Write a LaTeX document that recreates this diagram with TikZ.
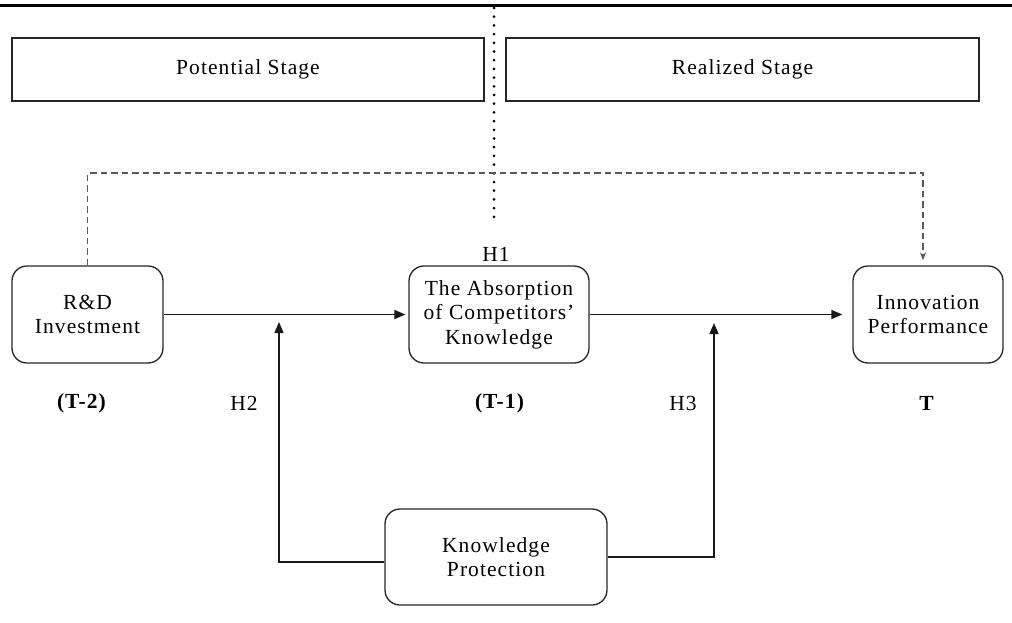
\documentclass[tikz,border=0pt]{standalone}
\usepackage{fontspec}
\setmainfont[LetterSpace=5]{Liberation Serif}
\usetikzlibrary{arrows.meta}
\begin{document}
\begin{tikzpicture}[x=1pt,y=-1pt,
  txt/.style={font=\fontsize{21.5}{24.5}\selectfont, inner sep=0pt, text=black},
  stagebox/.style={draw=black!85, line width=1.3pt, inner sep=0pt, minimum height=63pt, font=\fontsize{21.5}{24.5}\selectfont},
  roundbox/.style={draw=black!85, line width=1.3pt, rounded corners=15pt, inner sep=0pt, align=center, minimum height=97pt, font=\fontsize{21.5}{24.5}\selectfont},
  arr/.style={draw=black!90, line width=1.5pt, -{Triangle[length=11pt,width=9pt]}},
  dashconn/.style={draw=black!65, line width=1.9pt, dash pattern=on 6.5pt off 4pt, -{Stealth[length=8pt,width=6pt]}},
  dotline/.style={draw=black, line width=3pt, line cap=round, dash pattern=on 0pt off 8.7pt},
]
\useasboundingbox (0,0) rectangle (1012,622);

% top rule
\coordinate (rl) at (0,5);
\coordinate (rr) at (1012,5);
\draw[line width=3pt] (rl) -- (rr);

% stage boxes
\node[stagebox, minimum width=472pt] (pot) at (248,69.5) {Potential Stage};
\node[stagebox, minimum width=473pt] (real) at (742.5,69.5) {Realized Stage};

% dotted divider
\coordinate (dt) at (494,8);
\coordinate (db) at (494,219);
\draw[dotline] (dt) -- (db);

% main boxes
\node[roundbox, minimum width=151pt] (rd) at (87.5,314.5) {R\&D\\Investment};
\node[roundbox, minimum width=180pt] (abs) at (499,314.5) {The Absorption\\of Competitors'\\Knowledge};
\node[roundbox, minimum width=150pt] (ip) at (928,314.5) {Innovation\\Performance};
\node[roundbox, minimum width=222pt, minimum height=96pt] (kp) at (496,557) {Knowledge\\Protection};

% labels
\node[txt] (h1) at (496,254) {H1};
\node[txt] (t2) at (82,403) {\textbf{(T-2)}};
\node[txt] (h2) at (244,403) {H2};
\node[txt] (t1) at (500,403) {\textbf{(T-1)}};
\node[txt] (h3) at (683,403) {H3};
\node[txt] (tt) at (927,403) {\textbf{T}};

% connectors
\draw[arr, shorten >=3pt] (rd.east) -- (abs.west);
\draw[arr, shorten >=10pt] (abs.east) -- (ip.west);

\coordinate (h2tip) at (279,322);
\coordinate (h3tip) at (714,323);
\draw[arr] ([yshift=-5pt]kp.west) -| (h2tip);
\draw[arr] (kp.east) -| (h3tip);

\draw[dashconn, shorten >=5pt] (rd.north) -- ++(0,-92) -| ([xshift=-5pt]ip.north);
\end{tikzpicture}
\end{document}
